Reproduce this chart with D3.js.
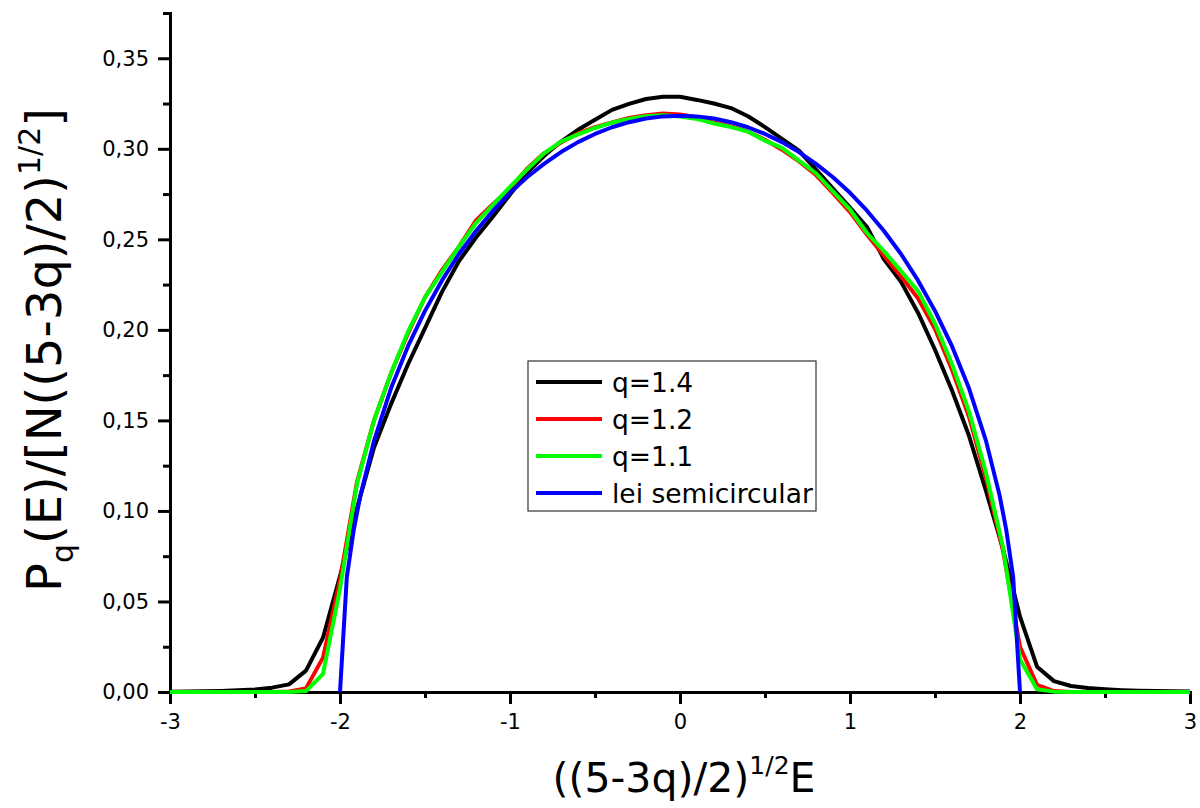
<!DOCTYPE html>
<html><head><meta charset="utf-8">
<script src="https://cdn.jsdelivr.net/npm/d3@7"></script>
<style>body{margin:0;background:#fff}svg{display:block}</style>
</head><body><svg id="c" width="1200" height="808"></svg>
<script>
const xGrid = [-3.0,-2.9,-2.8,-2.7,-2.6,-2.5,-2.4,-2.3,-2.2,-2.1,-2.0,-1.9,-1.8,-1.7,-1.6,-1.5,-1.4,-1.3,-1.2,-1.1,-1.0,-0.9,-0.8,-0.7,-0.6,-0.5,-0.4,-0.3,-0.2,-0.1,0.0,0.1,0.2,0.3,0.4,0.5,0.6,0.7,0.8,0.9,1.0,1.1,1.2,1.3,1.4,1.5,1.6,1.7,1.8,1.9,2.0,2.1,2.2,2.3,2.4,2.5,2.6,2.7,2.8,2.9,3.0];
const q14 = [0.0002,0.0003,0.0004,0.0006,0.0009,0.0014,0.0024,0.0042,0.0118,0.030,0.064,0.1015,0.135,0.159,0.181,0.201,0.221,0.238,0.251,0.2626,0.2747,0.2868,0.296,0.304,0.3105,0.316,0.3215,0.3248,0.3275,0.3287,0.3287,0.327,0.325,0.3225,0.318,0.312,0.3055,0.299,0.2885,0.278,0.2675,0.2568,0.239,0.2265,0.2095,0.189,0.1665,0.1415,0.111,0.079,0.0416,0.0140,0.0060,0.0033,0.0022,0.0015,0.001,0.0007,0.0005,0.0004,0.0003];
const q12 = [0,0,0,0,0,0,0,0.0003,0.002,0.019,0.062,0.116,0.150,0.176,0.198,0.218,0.233,0.246,0.2605,0.2695,0.278,0.289,0.2975,0.3035,0.3085,0.312,0.3145,0.317,0.3185,0.3195,0.319,0.3175,0.3145,0.3125,0.3095,0.305,0.2995,0.293,0.2855,0.2755,0.265,0.2525,0.241,0.2295,0.2175,0.2005,0.178,0.152,0.118,0.078,0.025,0.004,0.0005,0,0,0,0,0,0,0,0];
const q11 = [0,0,0,0,0,0,0,0,0.0005,0.010,0.057,0.115,0.150,0.176,0.199,0.218,0.232,0.246,0.259,0.269,0.279,0.2885,0.2975,0.304,0.308,0.3115,0.3145,0.3165,0.318,0.3185,0.3178,0.3165,0.314,0.312,0.3095,0.3045,0.3005,0.2935,0.2865,0.2765,0.2665,0.2535,0.2435,0.2325,0.2215,0.2035,0.181,0.155,0.121,0.080,0.018,0.0015,0.0002,0,0,0,0,0,0,0,0];
const xSemi = [-2.0,-1.96,-1.92,-1.88,-1.8,-1.7,-1.6,-1.5,-1.4,-1.3,-1.2,-1.1,-1.0,-0.9,-0.8,-0.7,-0.6,-0.5,-0.4,-0.3,-0.2,-0.1,0.0,0.1,0.2,0.3,0.4,0.5,0.6,0.7,0.8,0.9,1.0,1.1,1.2,1.3,1.4,1.5,1.6,1.7,1.8,1.88,1.92,1.96,2.0];
const semi = [0,0.0633,0.0891,0.1086,0.1387,0.1677,0.1910,0.2105,0.2273,0.2419,0.2546,0.2658,0.2757,0.2843,0.2917,0.2982,0.3037,0.3082,0.3119,0.3147,0.3167,0.3179,0.3183,0.3179,0.3167,0.3147,0.3119,0.3082,0.3037,0.2982,0.2917,0.2843,0.2757,0.2658,0.2546,0.2419,0.2273,0.2105,0.1910,0.1677,0.1387,0.1086,0.0891,0.0633,0];
const seriesNames = ["q=1.4","q=1.2","q=1.1","lei semicircular"];
const seriesColors = ["#000000","#ff0000","#00ff00","#0000ff"];
const xTicks = [-3,-2,-1,0,1,2,3];
const xMinor = [-2.5,-1.5,-0.5,0.5,1.5,2.5];
const yTicks = [0,0.05,0.10,0.15,0.20,0.25,0.30,0.35];
const yMinor = [0.025,0.075,0.125,0.175,0.225,0.275,0.325,0.375];

const svg = d3.select("#c");
const x = d3.scaleLinear().domain([-3,3]).range([170,1190]);
const y = d3.scaleLinear().domain([0,0.375]).range([692,13]);
const fmt = d3.format(".2f");
const comma = v => fmt(v).replace(".", ",");

function styleAxis(g){
  g.select(".domain").attr("stroke","#000").attr("stroke-width",3);
  g.selectAll(".tick line").attr("stroke","#000").attr("stroke-width",3);
  g.selectAll(".tick text").attr("font-family","DejaVu Sans").attr("font-size",21).attr("fill","#000");
}
svg.append("g").attr("transform","translate(0,692)")
  .call(d3.axisBottom(x).tickValues(xMinor).tickSize(6).tickFormat(""))
  .call(styleAxis);
svg.append("g").attr("transform","translate(170,0)")
  .call(d3.axisLeft(y).tickValues(yMinor).tickSize(7).tickFormat(""))
  .call(styleAxis);
svg.append("g").attr("transform","translate(0,692)")
  .call(d3.axisBottom(x).tickValues(xTicks).tickSize(12).tickPadding(10).tickSizeOuter(0).tickFormat(d=>String(d).replace("\u2212","-")))
  .call(styleAxis);
svg.append("g").attr("transform","translate(170,0)")
  .call(d3.axisLeft(y).tickValues(yTicks).tickSize(12).tickPadding(9).tickSizeOuter(0).tickFormat(comma))
  .call(styleAxis);

const line = d3.line().x(d=>x(d[0])).y(d=>y(d[1]));
const data = [
  xGrid.map((v,i)=>[v,q14[i]]),
  xGrid.map((v,i)=>[v,q12[i]]),
  xGrid.map((v,i)=>[v,q11[i]]),
  xSemi.map((v,i)=>[v,semi[i]])
];
svg.append("g").selectAll("path").data(data).join("path")
  .attr("d",line).attr("fill","none")
  .attr("stroke",(d,i)=>seriesColors[i]).attr("stroke-width",4)
  .attr("stroke-linejoin","round");

const lg = svg.append("g");
lg.append("rect").attr("x",528).attr("y",361).attr("width",288).attr("height",150)
  .attr("fill","#fff").attr("stroke","#333").attr("stroke-width",1.2);
seriesNames.forEach((n,i)=>{
  const yy = 382 + i*37;
  lg.append("line").attr("x1",536).attr("x2",602).attr("y1",yy).attr("y2",yy)
    .attr("stroke",seriesColors[i]).attr("stroke-width",4);
  lg.append("text").attr("x",612).attr("y",yy).attr("dy","0.36em")
    .attr("font-family","DejaVu Sans").attr("font-size",26.5).attr("fill","#000").text(n);
});

const xt = svg.append("text").attr("x",684).attr("y",792).attr("text-anchor","middle")
  .attr("font-family","DejaVu Sans").attr("font-size",41).attr("fill","#000");
xt.append("tspan").text("((5-3q)/2)");
xt.append("tspan").attr("dy",-18).attr("font-size",25).text("1/2");
xt.append("tspan").attr("dy",18).text("E");

const yt = svg.append("text").attr("transform","translate(61,350) rotate(-90)").attr("text-anchor","middle")
  .attr("font-family","DejaVu Sans").attr("font-size",48).attr("fill","#000");
yt.append("tspan").text("P");
yt.append("tspan").attr("dy",12).attr("font-size",30).text("q");
yt.append("tspan").attr("dy",-12).text("(E)/[N((5-3q)/2)");
yt.append("tspan").attr("dy",-21).attr("font-size",30).text("1/2");
yt.append("tspan").attr("dy",21).text("]");
</script></body></html>
